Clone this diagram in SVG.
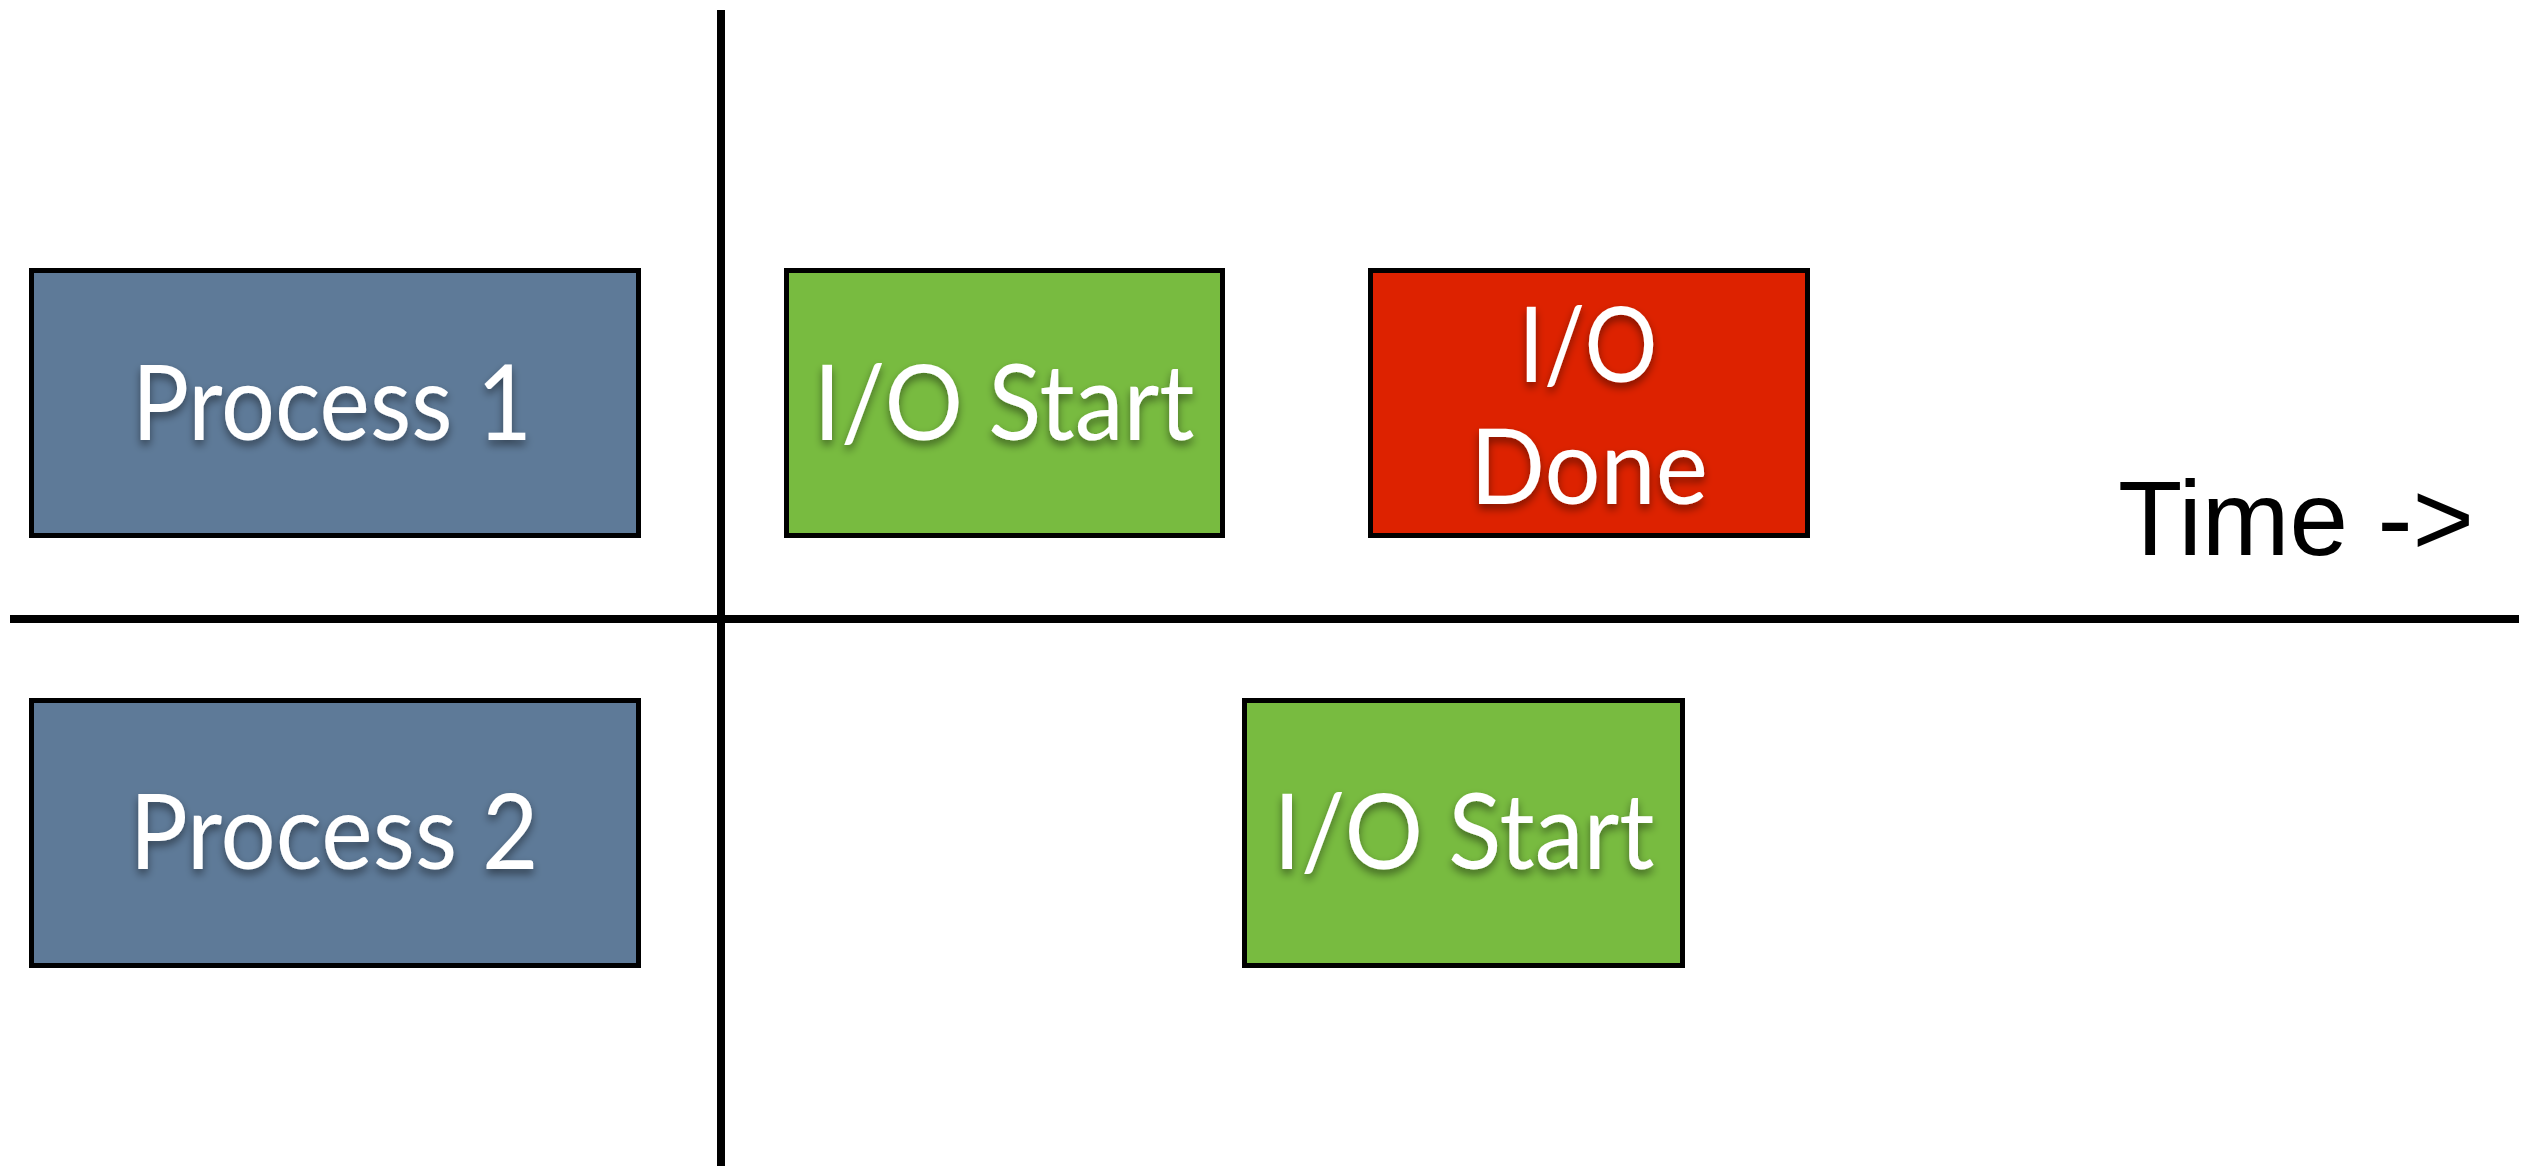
<svg xmlns="http://www.w3.org/2000/svg" width="2539" height="1166" viewBox="0 0 2539 1166">
<defs>
<style>
.box{stroke:#000;stroke-width:5}
.proc{fill:#5e7a98}
.start{fill:#78bb40}
.done{fill:#dd2200}
.lbl{font-family:Lato,"Open Sans",sans-serif;font-size:104px;fill:#fff;text-anchor:middle;filter:url(#sh)}
.axis{stroke:#000;stroke-width:8;fill:none}
.time{font-family:"Liberation Sans",Arial,sans-serif;font-size:105px;fill:#000}
</style>
<filter id="sh" x="-10%" y="-20%" width="120%" height="150%">
<feDropShadow dx="0" dy="5" stdDeviation="4" flood-color="#000" flood-opacity="0.45"/>
</filter>
</defs>
<g id="connectors">
<line class="axis" x1="721" y1="10" x2="721" y2="1166"/>
<line class="axis" x1="10" y1="619" x2="2519" y2="619"/>
</g>
<g id="process1">
<rect class="box proc" x="31.5" y="270.5" width="607" height="265"/>
<text class="lbl" x="332" y="440" textLength="400" lengthAdjust="spacingAndGlyphs">Process 1</text>
</g>
<g id="process2">
<rect class="box proc" x="31.5" y="700.5" width="607" height="265"/>
<text class="lbl" x="334" y="869" textLength="409" lengthAdjust="spacingAndGlyphs">Process 2</text>
</g>
<g id="io-start-1">
<rect class="box start" x="786.5" y="270.5" width="436" height="265"/>
<text class="lbl" x="1004" y="440" textLength="381" lengthAdjust="spacingAndGlyphs">I/O Start</text>
</g>
<g id="io-done">
<rect class="box done" x="1370.5" y="270.5" width="437" height="265"/>
<text class="lbl" x="1588" y="382" textLength="139" lengthAdjust="spacingAndGlyphs">I/O</text>
<text class="lbl" x="1589" y="504" textLength="238" lengthAdjust="spacingAndGlyphs">Done</text>
</g>
<g id="io-start-2">
<rect class="box start" x="1244.5" y="700.5" width="438" height="265"/>
<text class="lbl" x="1464" y="869" textLength="381" lengthAdjust="spacingAndGlyphs">I/O Start</text>
</g>
<g id="time-label">
<text class="time" x="2118" y="555" textLength="356" lengthAdjust="spacingAndGlyphs">Time -&gt;</text>
</g>
</svg>
